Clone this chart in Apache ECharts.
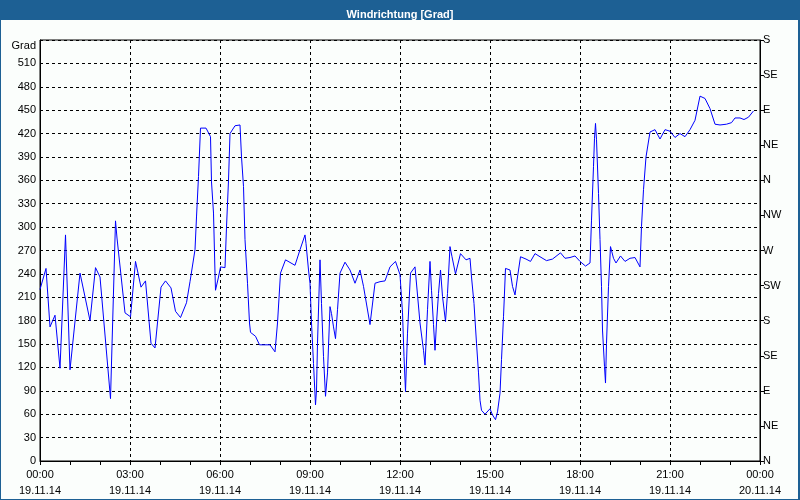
<!DOCTYPE html>
<html>
<head>
<meta charset="utf-8">
<script src="https://cdn.jsdelivr.net/npm/echarts@6/dist/echarts.min.js"></script>
<style>
html,body{margin:0;padding:0;background:#fbfefc;}
#c{width:800px;height:500px;}
</style>
</head>
<body>
<div id="c"></div>
<script>
// minutes since 19.11.14 00:00
const times = [0,12,20,30,40,51,60,80,100,111,120,141,151,154,170,181,191,202,211,222,230,242,251,262,271,281,293,300,310,313,317,321,332,341,343,347,350,351,357,361,370,373,377,380,390,400,403,407,410,415,419,421,431,439,460,470,475,481,491,510,520,530,532,537,540,543,547,551,553,555,560,563,567,571,575,580,583,587,591,595,600,610,620,630,640,647,660,670,680,690,700,711,720,725,728,731,735,741,750,760,767,770,775,780,783,787,790,793,797,801,805,811,815,820,824,831,841,852,860,863,868,873,877,880,883,890,900,905,911,915,920,923,927,931,940,945,950,955,961,972,981,990,1000,1013,1025,1041,1050,1060,1070,1080,1091,1100,1103,1107,1109,1111,1113,1117,1120,1123,1125,1129,1131,1133,1137,1141,1147,1152,1161,1170,1180,1190,1200,1203,1207,1212,1220,1230,1240,1250,1260,1270,1280,1290,1300,1310,1320,1330,1340,1350,1360,1373,1383,1390,1400,1408,1417,1427];
const values = [220,247,172,187,119,290,117,241,180,248,236,80,308,286,190,185,256,223,231,151,145,223,231,222,192,184,203,230,271,313,365,427,427,416,358,318,241,219,236,249,248,300,360,420,430,431,390,352,284,228,177,165,160,149,149,140,177,241,258,251,271,290,279,245,228,177,125,72,91,151,258,202,134,83,113,198,189,172,157,194,241,255,245,228,245,224,175,228,230,231,249,256,239,190,134,89,164,241,249,177,142,123,194,256,219,175,142,177,215,245,211,179,215,275,262,240,266,258,260,236,202,151,113,78,65,60,67,59,53,63,87,130,185,247,245,224,213,236,262,259,256,266,262,257,259,267,260,261,263,256,250,254,309,378,414,433,412,343,284,224,168,121,100,151,224,275,260,254,263,256,260,261,249,301,348,390,422,425,413,425,423,415,420,416,425,437,468,465,452,432,431,432,434,440,440,438,441,449];
const xTickTimes = ['00:00','03:00','06:00','09:00','12:00','15:00','18:00','21:00','00:00'];
const xTickDates = ['19.11.14','19.11.14','19.11.14','19.11.14','19.11.14','19.11.14','19.11.14','19.11.14','20.11.14'];
const leftTopLabel = 'Grad';
const compass = ['N','NE','E','SE','S','SW','W','NW','N','NE','E','SE','S'];
const titleText = 'Windrichtung [Grad]';

const FONT = 'Liberation Sans';
const chart = echarts.init(document.getElementById('c'), null, {renderer:'canvas'});
chart.setOption({
  backgroundColor: '#fbfefc',
  animation: false,
  title: {
    text: titleText, left: 'center', top: 4,
    textStyle: {color:'#ffffff', fontFamily:FONT, fontSize:11, fontWeight:'bold'}
  },
  graphic: [
    {type:'rect', left:0, top:0, shape:{width:800, height:20}, style:{fill:'#1d6094'}, z:-1},
    {type:'rect', left:0, top:0, shape:{width:1, height:500}, style:{fill:'#1d6094'}},
    {type:'rect', right:0, top:0, shape:{width:2, height:500}, style:{fill:'#1d6094'}},
    {type:'rect', left:0, bottom:0, shape:{width:800, height:1}, style:{fill:'#1d6094'}}
  ],
  grid: {left:40, right:40, top:40, bottom:39, show:true, borderColor:'#000', borderWidth:1, backgroundColor:'transparent'},
  xAxis: {
    type:'value', min:0, max:1440, interval:180,
    axisLine:{show:true, lineStyle:{color:'#000', width:1}},
    axisTick:{show:true, length:4, lineStyle:{color:'#000'}},
    minorTick:{show:true, splitNumber:3, length:4, lineStyle:{color:'#000'}},
    splitLine:{show:true, lineStyle:{color:'#000', type:[3,3], width:1}},
    axisLabel:{
      margin:6, color:'#000', fontFamily:FONT, fontSize:11, lineHeight:16,
      showMinLabel:true, showMaxLabel:true,
      formatter: function(v){ const i = Math.round(v/180); return xTickTimes[i] + '\n' + xTickDates[i]; }
    }
  },
  yAxis: [
    {
      type:'value', min:0, max:540, interval:30, position:'left',
      axisLine:{show:true, lineStyle:{color:'#000'}},
      axisTick:{show:false},
      splitLine:{show:true, lineStyle:{color:'#000', type:[3,3], width:1}},
      axisLabel:{
        margin:4, color:'#000', fontFamily:FONT, fontSize:11,
        formatter: function(v){ return v === 540 ? '{g|' + leftTopLabel + '}' : String(v); },
        rich:{ g:{fontFamily:FONT, fontSize:11, color:'#000', padding:[12,0,0,0]} }
      }
    },
    {
      type:'value', min:0, max:540, interval:45, position:'right',
      axisLine:{show:true, lineStyle:{color:'#000'}},
      axisTick:{show:true, length:4, lineStyle:{color:'#000'}},
      splitLine:{show:false},
      axisLabel:{
        margin:3, color:'#000', fontFamily:FONT, fontSize:11,
        formatter: function(v){ return compass[Math.round(v/45)]; }
      }
    }
  ],
  series: [{
    type:'line', yAxisIndex:0,
    data: times.map((t,i)=>[t, values[i]]),
    showSymbol:false, symbol:'none',
    lineStyle:{color:'#0000ff', width:1},
    itemStyle:{color:'#0000ff'}
  }]
});
</script>
</body>
</html>
